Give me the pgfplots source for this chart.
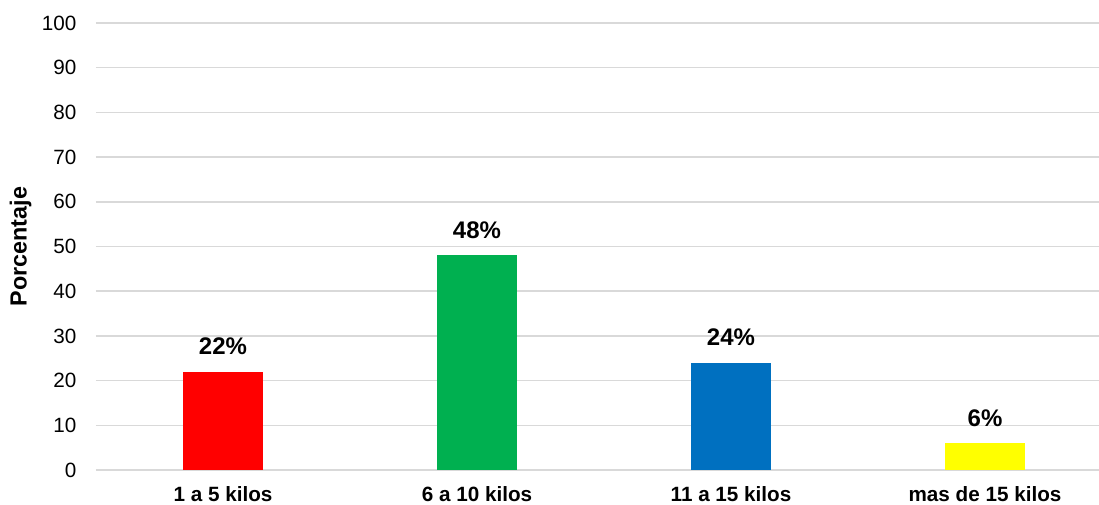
\documentclass[border=0pt]{standalone}
\usepackage{fontspec}
\setmainfont{Liberation Sans}
\usepackage{pgfplots}
\pgfplotsset{compat=1.18}

\definecolor{barred}{HTML}{FF0000}
\definecolor{bargreen}{HTML}{00B050}
\definecolor{barblue}{HTML}{0070C0}
\definecolor{baryellow}{HTML}{FFFF00}
\definecolor{gridgray}{HTML}{D9D9D9}

\begin{document}
\begin{tikzpicture}
\begin{axis}[
  name=ax,
  scale only axis,
  width=762pt, height=335.25pt,
  xmin=-0.5, xmax=3.5,
  ymin=0, ymax=100,
  ytick={0,10,...,100},
  xtick={0,1,2,3},
  xticklabels={1 a 5 kilos, 6 a 10 kilos, 11 a 15 kilos, mas de 15 kilos},
  ymajorgrids,
  major grid style={draw=gridgray, line width=1.1pt},
  axis line style={draw=none},
  tick style={draw=none},
  /pgf/number format/assume math mode=true,
  yticklabel style={font=\fontsize{15.5}{18}\selectfont, anchor=east, inner sep=0pt, xshift=-14.5pt},
  xticklabel style={font=\fontsize{15.5}{18}\selectfont\bfseries, anchor=base, inner sep=0pt, yshift=-19pt},
  ylabel={Porcentaje},
  every axis y label/.style={at={(axis description cs:-0.0743,0.5)}, rotate=90, anchor=center,
    font=\fontsize{17.5}{20}\selectfont\bfseries},
  ybar, bar width=60pt,
  nodes near coords={\pgfmathprintnumber{\pgfplotspointmeta}\%},
  every node near coord/.style={anchor=base, inner sep=0pt, yshift=12.75pt,
    font=\fontsize{18}{21}\selectfont\bfseries, text=black},
]
\addplot[bar shift=0pt, fill=barred, draw=none] coordinates {(0,22)};
\addplot[bar shift=0pt, fill=bargreen, draw=none] coordinates {(1,48)};
\addplot[bar shift=0pt, fill=barblue, draw=none] coordinates {(2,24)};
\addplot[bar shift=0pt, fill=baryellow, draw=none] coordinates {(3,6)};
\end{axis}
\pgfresetboundingbox
\path[use as bounding box] ([shift={(-72pt,-25.5pt)}]ax.south west) rectangle ([shift={(-9.75pt,17.25pt)}]ax.north east);
\end{tikzpicture}
\end{document}
